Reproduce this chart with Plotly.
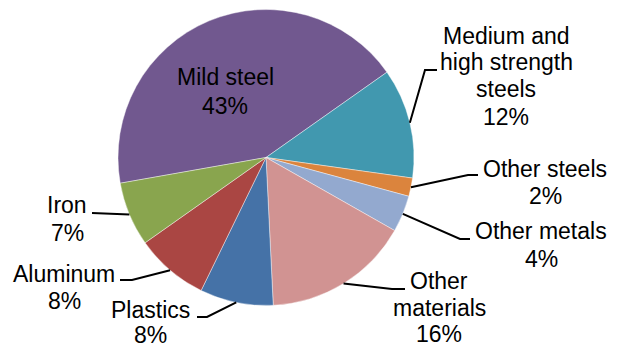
import math
import plotly.graph_objects as go

# ---- data ----
categories = ["Mild steel", "Medium and high strength steels", "Other steels",
              "Other metals", "Other materials", "Plastics", "Aluminum", "Iron"]
values = [43, 12, 2, 4, 16, 8, 8, 7]
label_lines = [["Mild steel", "43%"],
               ["Medium and", "high strength", "steels", "12%"],
               ["Other steels", "2%"],
               ["Other metals", "4%"],
               ["Other", "materials", "16%"],
               ["Plastics", "8%"],
               ["Aluminum", "8%"],
               ["Iron", "7%"]]
colors = ["#71588F", "#4198AF", "#DB843D", "#93A9CF",
          "#D19392", "#4572A7", "#AA4643", "#89A54E"]

# ---- layout / style ----
W, H = 618, 347
CX, CY, R = 266, 157.5, 148
ROT = -100  # start angle of the first slice (clockwise from 12 o'clock)
FONT = dict(family="Liberation Sans, Arial, sans-serif", size=23, color="#000000")

# label style: center x, first line middle y, line spacing, leader (elbow, end) or None
label_style = [
    (225, 77, 29.5, None),
    (506, 35.5, 27, ((425, 70), (437, 70))),
    (545, 169, 27, ((468, 175), (478, 175))),
    (541, 231, 28, ((460, 239), (470, 239))),
    (439, 281, 26.5, ((392, 289), (405, 289))),
    (150, 309.5, 25.5, ((207, 317), (197, 317))),
    (64, 274, 27, ((132, 280), (120, 280))),
    (67, 205, 28, ((92, 213), (92, 213))),
]


def px(x):
    return x / W


def py(y):
    return 1 - y / H


fig = go.Figure(go.Pie(
    labels=categories, values=values, sort=False, direction="clockwise",
    rotation=ROT, textinfo="none", hoverinfo="label+percent",
    marker=dict(colors=colors, line=dict(color="rgba(255,255,255,0.6)", width=0.7)),
    domain=dict(x=[px(CX - R), px(CX + R)], y=[py(CY + R), py(CY - R)]),
    showlegend=False,
))

annotations = []
shapes = []
total = sum(values)
cum = 0
for i, v in enumerate(values):
    mid = math.radians(ROT + (cum + v / 2) / total * 360)
    cum += v
    sx, sy = CX + R * math.sin(mid), CY - R * math.cos(mid)
    cxl, y0, sp, leader = label_style[i]
    for k, line in enumerate(label_lines[i]):
        annotations.append(dict(
            x=px(cxl), y=py(y0 + k * sp), xref="paper", yref="paper",
            text=line, showarrow=False, xanchor="center", yanchor="middle",
            font=FONT))
    if leader is not None:
        (ex, ey), (tx, ty) = leader
        shapes.append(dict(
            type="path", xref="paper", yref="paper",
            path=f"M {px(sx)} {py(sy)} L {px(ex)} {py(ey)} L {px(tx)} {py(ty)}",
            line=dict(color="#000000", width=2)))

fig.update_layout(
    width=W, height=H, margin=dict(l=0, r=0, t=0, b=0),
    paper_bgcolor="white", plot_bgcolor="white",
    annotations=annotations, shapes=shapes,
)
fig.write_html("out.html")
